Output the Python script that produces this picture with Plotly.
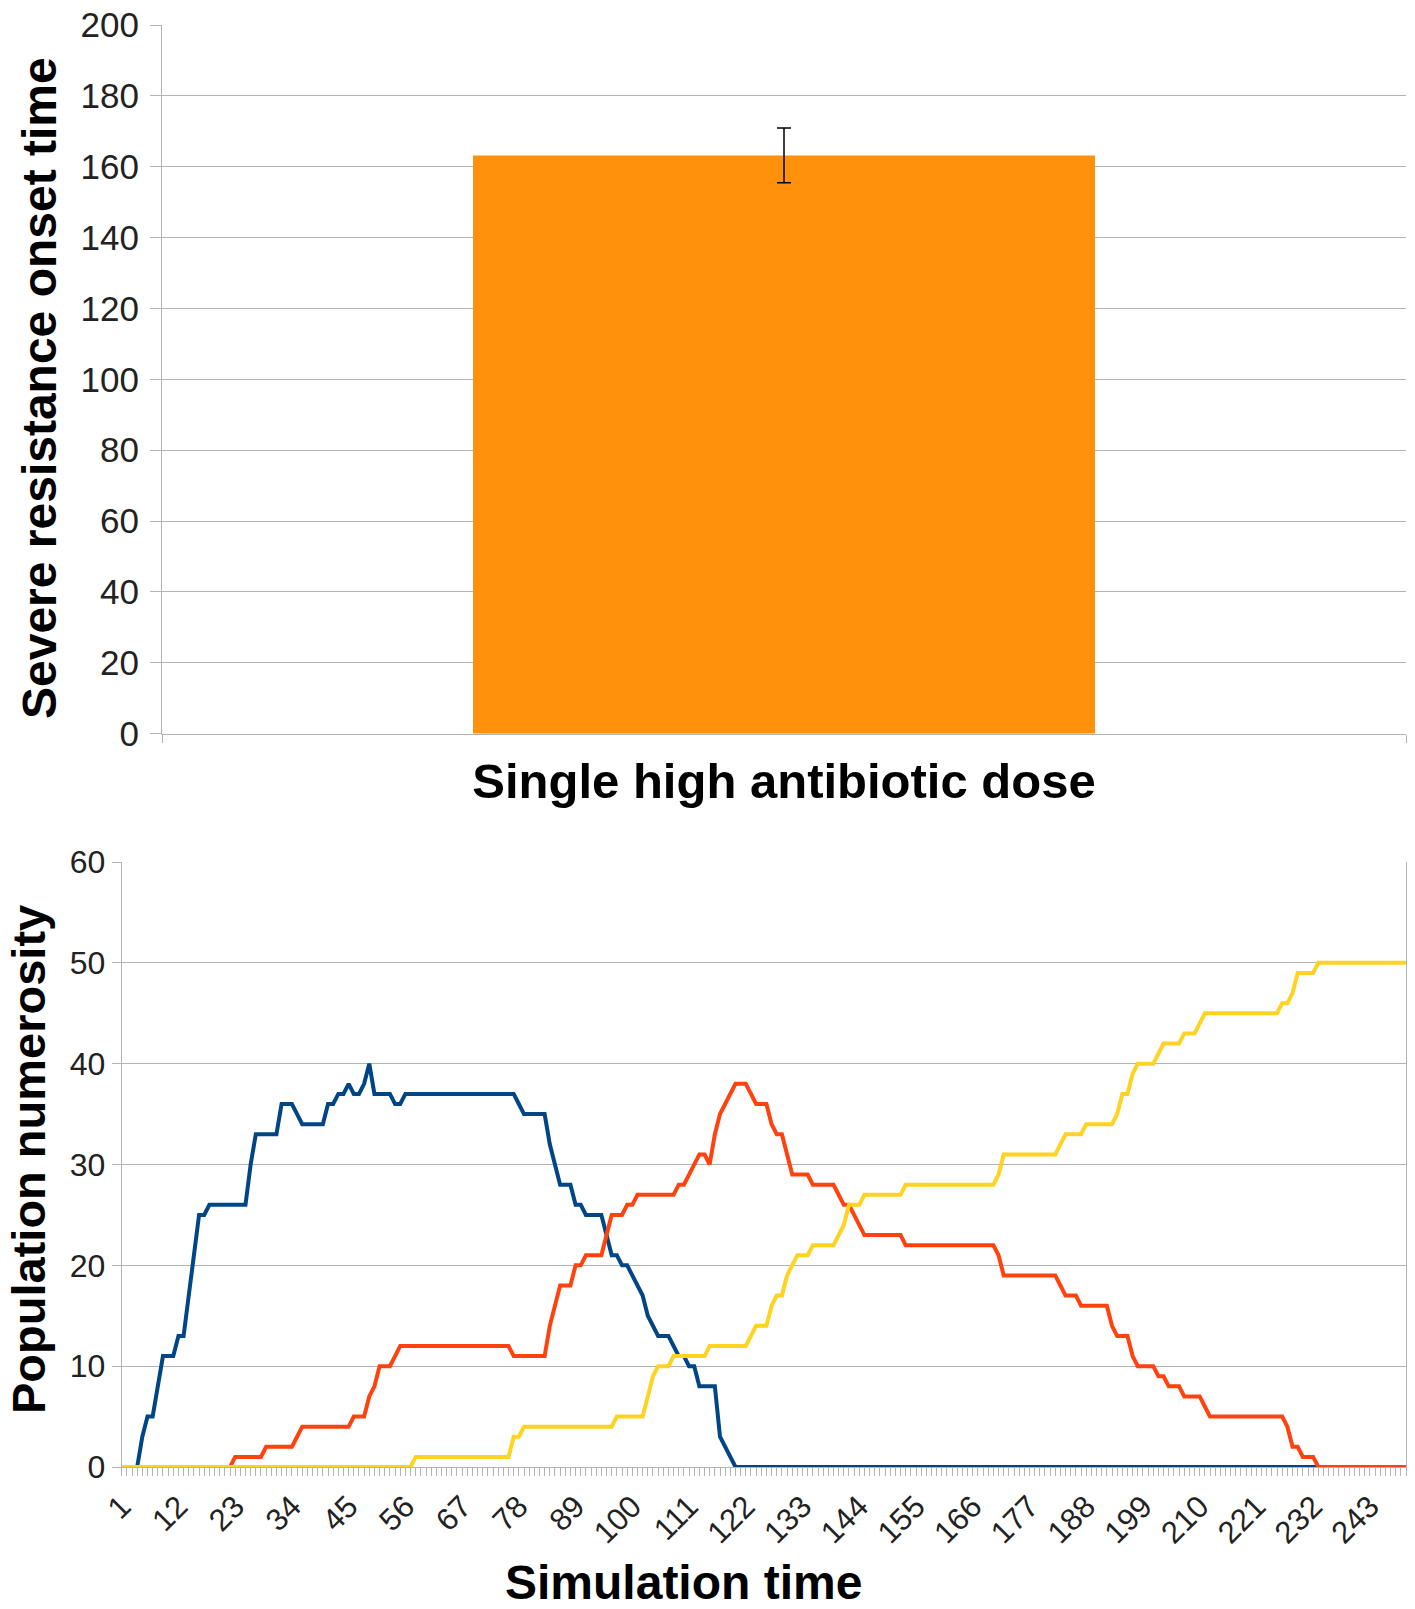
import plotly.graph_objects as go

W, H = 1415, 1609

# ---------------- top chart data ----------------
bar_categories = ["Single high antibiotic dose"]
bar_values = [163.2]
bar_errors = [7.7]
top_y_ticks = [0, 20, 40, 60, 80, 100, 120, 140, 160, 180, 200]

# ---------------- bottom chart data ----------------
time_steps = list(range(1, 251))
x_tick_vals = [1, 12, 23, 34, 45, 56, 67, 78, 89, 100, 111, 122, 133, 144, 155,
               166, 177, 188, 199, 210, 221, 232, 243]
x_tick_text = ["1", "12", "23", "34", "45", "56", "67", "78", "89", "100", "111",
               "122", "133", "144", "155", "166", "177", "188", "199", "210",
               "221", "232", "243"]
bottom_y_ticks = [0, 10, 20, 30, 40, 50, 60]

blue_series = [
    0, 0, 0, 0, 3, 5, 5, 8, 11, 11,            # 1-10
    11, 13, 13, 17, 21, 25, 25, 26, 26, 26,    # 11-20
    26, 26, 26, 26, 26, 30, 33, 33, 33, 33,    # 21-30
    33, 36, 36, 36, 35, 34, 34, 34, 34, 34,    # 31-40
    36, 36, 37, 37, 38, 37, 37, 38, 40, 37,    # 41-50
    37, 37, 37, 36, 36, 37, 37, 37, 37, 37,    # 51-60
    37, 37, 37, 37, 37, 37, 37, 37, 37, 37,    # 61-70
    37, 37, 37, 37, 37, 37, 37, 36, 35, 35,    # 71-80
    35, 35, 35, 32, 30, 28, 28, 28, 26, 26,    # 81-90
    25, 25, 25, 25, 23, 21, 21, 20, 20, 19,    # 91-100
    18, 17, 15, 14, 13, 13, 13, 12, 11, 11,    # 101-110
    10, 10, 8, 8, 8, 8, 3, 2, 1, 0,            # 111-120
    0, 0, 0, 0, 0, 0, 0, 0, 0, 0,              # 121-130
    0, 0, 0, 0, 0, 0, 0, 0, 0, 0,              # 131-140
    0, 0, 0, 0, 0, 0, 0, 0, 0, 0,              # 141-150
    0, 0, 0, 0, 0, 0, 0, 0, 0, 0,              # 151-160
    0, 0, 0, 0, 0, 0, 0, 0, 0, 0,              # 161-170
    0, 0, 0, 0, 0, 0, 0, 0, 0, 0,              # 171-180
    0, 0, 0, 0, 0, 0, 0, 0, 0, 0,              # 181-190
    0, 0, 0, 0, 0, 0, 0, 0, 0, 0,              # 191-200
    0, 0, 0, 0, 0, 0, 0, 0, 0, 0,              # 201-210
    0, 0, 0, 0, 0, 0, 0, 0, 0, 0,              # 211-220
    0, 0, 0, 0, 0, 0, 0, 0, 0, 0,              # 221-230
    0, 0, 0, 0, 0, 0, 0, 0, 0, 0,              # 231-240
    0, 0, 0, 0, 0, 0, 0, 0, 0, 0,              # 241-250
]

red_series = [
    0, 0, 0, 0, 0, 0, 0, 0, 0, 0,              # 1-10
    0, 0, 0, 0, 0, 0, 0, 0, 0, 0,              # 11-20
    0, 0, 1, 1, 1, 1, 1, 1, 2, 2,              # 21-30
    2, 2, 2, 2, 3, 4, 4, 4, 4, 4,              # 31-40
    4, 4, 4, 4, 4, 5, 5, 5, 7, 8,              # 41-50
    10, 10, 10, 11, 12, 12, 12, 12, 12, 12,    # 51-60
    12, 12, 12, 12, 12, 12, 12, 12, 12, 12,    # 61-70
    12, 12, 12, 12, 12, 12, 11, 11, 11, 11,    # 71-80
    11, 11, 11, 14, 16, 18, 18, 18, 20, 20,    # 81-90
    21, 21, 21, 21, 23, 25, 25, 25, 26, 26,    # 91-100
    27, 27, 27, 27, 27, 27, 27, 27, 28, 28,    # 101-110
    29, 30, 31, 31, 30, 33, 35, 36, 37, 38,    # 111-120
    38, 38, 37, 36, 36, 36, 34, 33, 33, 31,    # 121-130
    29, 29, 29, 29, 28, 28, 28, 28, 28, 27,    # 131-140
    26, 26, 25, 24, 23, 23, 23, 23, 23, 23,    # 141-150
    23, 23, 22, 22, 22, 22, 22, 22, 22, 22,    # 151-160
    22, 22, 22, 22, 22, 22, 22, 22, 22, 22,    # 161-170
    21, 19, 19, 19, 19, 19, 19, 19, 19, 19,    # 171-180
    19, 19, 18, 17, 17, 17, 16, 16, 16, 16,    # 181-190
    16, 16, 14, 13, 13, 13, 11, 10, 10, 10,    # 191-200
    10, 9, 9, 8, 8, 8, 7, 7, 7, 7,             # 201-210
    6, 5, 5, 5, 5, 5, 5, 5, 5, 5,              # 211-220
    5, 5, 5, 5, 5, 5, 4, 2, 2, 1,              # 221-230
    1, 1, 0, 0, 0, 0, 0, 0, 0, 0,              # 231-240
    0, 0, 0, 0, 0, 0, 0, 0, 0, 0,              # 241-250
]

yellow_series = [
    0, 0, 0, 0, 0, 0, 0, 0, 0, 0,              # 1-10
    0, 0, 0, 0, 0, 0, 0, 0, 0, 0,              # 11-20
    0, 0, 0, 0, 0, 0, 0, 0, 0, 0,              # 21-30
    0, 0, 0, 0, 0, 0, 0, 0, 0, 0,              # 31-40
    0, 0, 0, 0, 0, 0, 0, 0, 0, 0,              # 41-50
    0, 0, 0, 0, 0, 0, 0, 1, 1, 1,              # 51-60
    1, 1, 1, 1, 1, 1, 1, 1, 1, 1,              # 61-70
    1, 1, 1, 1, 1, 1, 3, 3, 4, 4,              # 71-80
    4, 4, 4, 4, 4, 4, 4, 4, 4, 4,              # 81-90
    4, 4, 4, 4, 4, 4, 5, 5, 5, 5,              # 91-100
    5, 5, 7, 9, 10, 10, 10, 11, 11, 11,        # 101-110
    11, 11, 11, 11, 12, 12, 12, 12, 12, 12,    # 111-120
    12, 12, 13, 14, 14, 14, 16, 17, 17, 19,    # 121-130
    20, 21, 21, 21, 22, 22, 22, 22, 22, 23,    # 131-140
    24, 26, 26, 26, 27, 27, 27, 27, 27, 27,    # 141-150
    27, 27, 28, 28, 28, 28, 28, 28, 28, 28,    # 151-160
    28, 28, 28, 28, 28, 28, 28, 28, 28, 28,    # 161-170
    29, 31, 31, 31, 31, 31, 31, 31, 31, 31,    # 171-180
    31, 31, 32, 33, 33, 33, 33, 34, 34, 34,    # 181-190
    34, 34, 34, 35, 37, 37, 39, 40, 40, 40,    # 191-200
    40, 41, 42, 42, 42, 42, 43, 43, 43, 44,    # 201-210
    45, 45, 45, 45, 45, 45, 45, 45, 45, 45,    # 211-220
    45, 45, 45, 45, 45, 46, 46, 47, 49, 49,    # 221-230
    49, 49, 50, 50, 50, 50, 50, 50, 50, 50,    # 231-240
    50, 50, 50, 50, 50, 50, 50, 50, 50, 50,    # 241-250
]

BLUE = "#004586"
RED = "#ff420e"
YELLOW = "#ffd320"
ORANGE = "#ff920a"
GRID = "#b3b3b3"
FONT = "Liberation Sans, Arial, sans-serif"


def px_x(p):
    return p / W


def px_y(p):
    return 1 - p / H


fig = go.Figure()

fig.add_trace(go.Bar(
    x=bar_categories, y=bar_values,
    marker=dict(color=ORANGE, line=dict(width=0)),
    error_y=dict(type="data", array=bar_errors, color="black", thickness=1.5, width=7),
    xaxis="x", yaxis="y", showlegend=False,
))

for name, series, color in [("Series 1", blue_series, BLUE),
                            ("Series 2", red_series, RED),
                            ("Series 3", yellow_series, YELLOW)]:
    fig.add_trace(go.Scatter(
        x=time_steps, y=series, mode="lines", name=name,
        line=dict(color=color, width=4),
        xaxis="x2", yaxis="y2", showlegend=False,
    ))

fig.update_layout(
    width=W, height=H, autosize=False,
    margin=dict(l=0, r=0, t=0, b=0, pad=0),
    paper_bgcolor="white", plot_bgcolor="white",
    font=dict(family=FONT, color="#222"),
    bargap=0.5,
    showlegend=False,
    xaxis=dict(
        domain=[px_x(162), px_x(1406)], anchor="y", automargin=False,
        type="category", range=[-0.5, 0.5],
        showline=True, linecolor=GRID, linewidth=1,
        showgrid=False, zeroline=False,
        ticks="outside", tickson="boundaries", ticklen=8, tickcolor=GRID,
        tickfont=dict(size=49, color="black", weight="bold", family=FONT),
        ticklabelstandoff=4,
    ),
    yaxis=dict(
        domain=[px_y(733.7), px_y(25)], anchor="x", automargin=False,
        range=[0, 200], tickmode="array", tickvals=top_y_ticks,
        showgrid=True, gridcolor=GRID, gridwidth=1,
        showline=True, linecolor=GRID, linewidth=1, zeroline=False,
        ticks="outside", ticklen=11, tickcolor=GRID,
        tickfont=dict(size=35, color="#222"),
        ticklabelstandoff=4,
    ),
    xaxis2=dict(
        domain=[px_x(121.7), px_x(1406)], anchor="y2", automargin=False,
        range=[1, 250], tickmode="array", tickvals=x_tick_vals, ticktext=x_tick_text,
        tickangle=-45,
        showline=True, linecolor=GRID, linewidth=1,
        showgrid=False, zeroline=False,
        ticks="outside", ticklen=8, tickcolor=GRID,
        minor=dict(tickmode="linear", tick0=1, dtick=1, ticks="outside",
                   ticklen=8, tickcolor=GRID, showgrid=False),
        tickfont=dict(size=31, color="#222"),
    ),
    yaxis2=dict(
        domain=[px_y(1467), px_y(862)], anchor="x2", automargin=False,
        range=[0, 60], tickmode="array", tickvals=bottom_y_ticks,
        showgrid=True, gridcolor=GRID, gridwidth=1,
        showline=True, linecolor=GRID, linewidth=1, mirror=True, zeroline=False,
        ticks="outside", ticklen=9, tickcolor=GRID,
        tickfont=dict(size=32, color="#222"),
        ticklabelstandoff=0,
    ),
    annotations=[
        dict(text="Severe resistance onset time", x=px_x(39), y=px_y(388),
             xref="paper", yref="paper", xanchor="center", yanchor="middle",
             textangle=-90, showarrow=False,
             font=dict(size=48, color="black", weight="bold", family=FONT)),
        dict(text="Population numerosity", x=px_x(28), y=px_y(1160),
             xref="paper", yref="paper", xanchor="center", yanchor="middle",
             textangle=-90, showarrow=False,
             font=dict(size=47, color="black", weight="bold", family=FONT)),
        dict(text="Simulation time", x=px_x(683), y=px_y(1582),
             xref="paper", yref="paper", xanchor="center", yanchor="middle",
             showarrow=False,
             font=dict(size=48, color="black", weight="bold", family=FONT)),
    ],
)

fig.write_html("out.html", config={"displayModeBar": False},
               post_script="document.body.style.margin='0';")
